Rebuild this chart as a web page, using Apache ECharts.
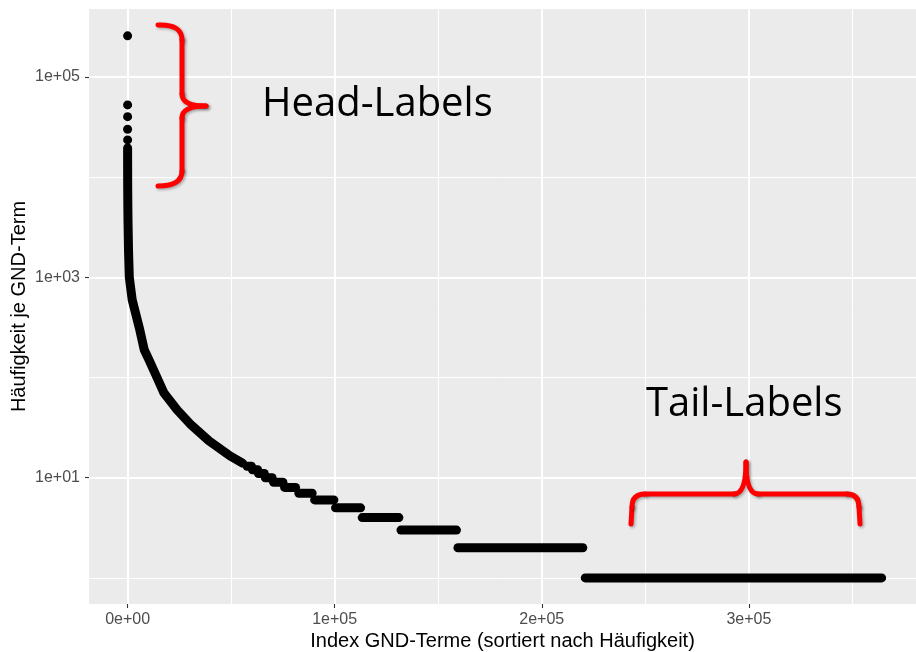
<!DOCTYPE html>
<html><head><meta charset="utf-8">
<script src="https://cdn.jsdelivr.net/npm/echarts@6/dist/echarts.min.js"></script>
<style>html,body{margin:0;padding:0;background:#fff}#c{width:916px;height:652px}</style>
</head><body><div id="c"></div>
<script>
// ---- Data ----
const headIndex = [1, 2, 3, 4, 5];
const headCount = [257000, 52500, 40100, 30000, 23500];
const curveIndex = [6, 15, 40, 100, 200, 435, 820, 2220, 5650, 8020, 10330, 14680, 17580, 20960, 23860, 30130, 39310, 49450, 55500];
const curveCount = [19500, 13000, 8500, 5500, 3600, 1880, 1000, 596, 313, 189, 150, 95, 70, 57, 47.6, 34.5, 23.3, 16.5, 14];
const stepCount = [13, 12, 11, 10, 9, 8, 7, 6, 5, 4, 3, 2, 1];
const stepStart = [57700, 60300, 63200, 66500, 70500, 75800, 82700, 90300, 100400, 113300, 132000, 159500, 221000];
const stepEnd   = [59800, 62800, 66000, 69800, 75000, 81100, 89100, 99600, 112500, 131000, 158800, 219800, 364100];
const xTickValues = [0, 100000, 200000, 300000];
const xTickLabels = ['0e+00', '1e+05', '2e+05', '3e+05'];
const yTickValues = [10, 1000, 100000];
const yTickLabels = ['1e+01', '1e+03', '1e+05'];
const yMinorBreaks = [1, 100, 10000];
const xTitle = 'Index GND-Terme (sortiert nach Häufigkeit)';
const yTitle = 'Häufigkeit je GND-Term';
const headText = 'Head-Labels';
const tailText = 'Tail-Labels';

const chart = echarts.init(document.getElementById('c'), null, {renderer: 'canvas'});
const AX_FONT = 'Liberation Sans';
const black = '#000000';
const red = '#FF0000';
const Y_MIN = 0.549, Y_MAX = 476000;

function xLabel(v) {
  for (let i = 0; i < xTickValues.length; i++) if (Math.abs(v - xTickValues[i]) < 1) return xTickLabels[i];
  return '';
}
function yLabel(v) {
  for (let i = 0; i < yTickValues.length; i++) if (Math.abs(Math.log10(v) - Math.log10(yTickValues[i])) < 0.01) return yTickLabels[i];
  return '';
}

const series = [
  {type: 'scatter', data: headIndex.map((x, i) => [x, headCount[i]]), symbolSize: 9,
   itemStyle: {color: black, opacity: 1}, silent: true, z: 3},
  {type: 'line', data: curveIndex.map((x, i) => [x, curveCount[i]]), symbol: 'none', showSymbol: false,
   lineStyle: {color: black, width: 9, cap: 'round', join: 'round'}, silent: true, z: 3}
].concat(stepCount.map((c, i) => ({
  type: 'line', data: [[stepStart[i], c], [stepEnd[i], c]], symbol: 'none', showSymbol: false,
  lineStyle: {color: black, width: 9, cap: 'round'}, silent: true, z: 3
})));

const braceStyle = {stroke: red, lineWidth: 5, fill: null, lineCap: 'round', lineJoin: 'round',
  shadowBlur: 3, shadowColor: 'rgba(0,0,0,0.3)', shadowOffsetX: 1.5, shadowOffsetY: 1.5};
function ln(x1, y1, x2, y2) { return {type: 'line', z: 100, shape: {x1, y1, x2, y2}, style: braceStyle, silent: true}; }
function bz(x1, y1, cx, cy, x2, y2) { return {type: 'bezierCurve', z: 100, shape: {x1, y1, cpx1: cx, cpy1: cy, x2, y2}, style: braceStyle, silent: true}; }

const headBrace = [
  bz(158, 25, 182, 24, 182, 40), ln(182, 40, 182, 94),
  bz(182, 94, 182, 106, 206, 106), bz(206, 106, 182, 106, 182, 118),
  ln(182, 118, 182, 171), bz(182, 171, 182, 186, 158, 186)
];
const tailBrace = [
  ln(631, 524, 632, 507), bz(632, 507, 632, 494, 645, 494), ln(645, 494, 734, 494),
  bz(734, 494, 746, 494, 746, 462), bz(746, 462, 746, 494, 758, 494), ln(758, 494, 847, 494),
  bz(847, 494, 859, 494, 859, 507), ln(859, 507, 860, 524)
];

const option = {
  animation: false,
  backgroundColor: '#ffffff',
  grid: {left: 89, right: 0, top: 9, bottom: 48, show: true, backgroundColor: '#EBEBEB', borderWidth: 0,
         containLabel: false, outerBoundsMode: 'none'},
  xAxis: {
    type: 'value', min: -18640, max: 380700, splitNumber: 4,
    axisLine: {show: false, onZero: false},
    axisTick: {show: true, customValues: xTickValues, length: 4, lineStyle: {color: '#333333', width: 1.1}},
    axisLabel: {customValues: xTickValues, formatter: xLabel, color: '#4D4D4D', fontSize: 16, fontFamily: AX_FONT, margin: 8},
    splitLine: {show: true, lineStyle: {color: '#ffffff', width: 2}},
    minorTick: {show: false, splitNumber: 2},
    minorSplitLine: {show: true, lineStyle: {color: '#ffffff', width: 1}},
    name: xTitle, nameLocation: 'middle', nameGap: 27, nameMoveOverlap: false,
    nameTextStyle: {color: '#000000', fontSize: 20, fontFamily: AX_FONT}
  },
  yAxis: [{
    type: 'log', logBase: 10, min: Y_MIN, max: Y_MAX,
    axisLine: {show: false, onZero: false},
    axisTick: {show: true, customValues: yTickValues, length: 4, lineStyle: {color: '#333333', width: 1.1}},
    axisLabel: {customValues: yTickValues, formatter: yLabel, color: '#4D4D4D', fontSize: 16, fontFamily: AX_FONT, margin: 9},
    splitLine: {show: true, lineStyle: {color: '#ffffff', width: 2}},
    name: yTitle, nameLocation: 'middle', nameGap: 60, nameRotate: 90, nameMoveOverlap: false,
    nameTextStyle: {color: '#000000', fontSize: 20, fontFamily: AX_FONT}
  }, {
    type: 'log', logBase: 10, min: Y_MIN, max: Y_MAX, position: 'left',
    axisLine: {show: false, onZero: false},
    axisTick: {show: false, customValues: yMinorBreaks},
    axisLabel: {show: false, customValues: yMinorBreaks},
    splitLine: {show: true, lineStyle: {color: '#ffffff', width: 1}}
  }],
  series: series,
  graphic: [
    {type: 'group', z: 100, silent: true, children: headBrace.concat(tailBrace)},
    {type: 'text', z: 100, x: 262, y: 105, silent: true,
     style: {text: headText, fontSize: 40, fontFamily: 'Open Sans', fill: black, align: 'left', verticalAlign: 'middle'}},
    {type: 'text', z: 100, x: 646, y: 405, silent: true,
     style: {text: tailText, fontSize: 40, fontFamily: 'Open Sans', fill: black, align: 'left', verticalAlign: 'middle'}}
  ]
};
chart.setOption(option);
</script>
</body></html>
